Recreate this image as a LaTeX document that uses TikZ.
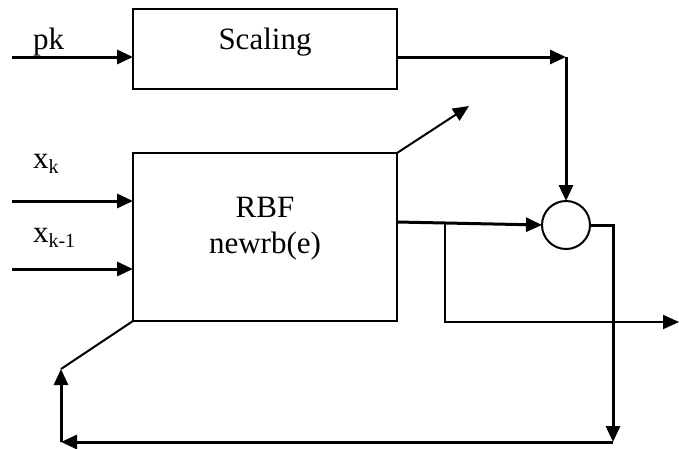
\documentclass[tikz,border=0pt]{standalone}
\usepackage{fontspec}
\setmainfont{Liberation Serif}
\usetikzlibrary{arrows.meta}
\begin{document}
\begin{tikzpicture}[x=1pt,y=-1pt,
  every node/.style={font=\fontsize{31}{36}\selectfont, inner sep=0pt, outer sep=0pt},
  blockbox/.style={draw, line width=2pt, inner sep=0pt},
  sumnode/.style={draw, circle, line width=2pt, minimum size=48pt, inner sep=0pt},
  thk/.style={line width=3pt},
  thn/.style={line width=2pt},
  arr/.style={-{Triangle[length=16pt,width=14pt]}},
  lbl/.style={anchor=base west},
  ctr/.style={anchor=base}
]
\useasboundingbox (0,0) rectangle (679,448);
\newcommand{\mysub}[1]{\raisebox{-5pt}{\fontsize{20}{20}\selectfont #1}}

% blocks
\node[blockbox, minimum width=264pt, minimum height=80pt] (scal) at (265,49) {};
\node[ctr] (scaltxt) at (265,49) {Scaling};
\node[blockbox, minimum width=264pt, minimum height=168pt] (rbf) at (265,237) {};
\node[ctr] (rbftxt) at (265,217) {RBF};
\node[ctr] (newrbtxt) at (265,253) {newrb(e)};
\node[sumnode] (sum) at (566,225) {};

% labels
\node[lbl] (pklbl) at (33,49) {pk};
\node[lbl] (xklbl) at (33,168) {x\mysub{k}};
\node[lbl] (xk1lbl) at (33,242) {x\mysub{k-1}};

% coordinates
\coordinate (pkin) at (12,57);
\coordinate (c1) at (566,57);
\coordinate (d1) at (469,106);
\coordinate (xkin) at (12,201);
\coordinate (xk1in) at (12,269);
\coordinate (o1) at (397,222);
\coordinate (b1) at (445,224);
\coordinate (b2) at (445,322);
\coordinate (outr) at (679,322);
\coordinate (s1) at (613,225);
\coordinate (s2) at (613,442);
\coordinate (l1) at (61,442);
\coordinate (l2) at (61,369);

% connectors
\draw[thk, arr] (pkin) -- (pkin -| scal.west);
\draw[thk, arr] (pkin -| scal.east) -- (c1);
\draw[thk, arr] (c1) -- (sum.north);
\draw[thn, arr] (rbf.north east) -- (d1);
\draw[thk, arr] (xkin) -- (xkin -| rbf.west);
\draw[thk, arr] (xk1in) -- (xk1in -| rbf.west);
\draw[thk, arr] (o1) -- (sum.west);
\draw[thn, arr] (b1) -- (b2) -- (outr);
\draw[thk, arr] (sum.east) -- (s1) -- (s2);
\draw[thk, arr] (s2) -- (l1);
\draw[thk, arr] (l1) -- (l2);
\draw[thn] (l2) -- (rbf.south west);
\end{tikzpicture}
\end{document}
